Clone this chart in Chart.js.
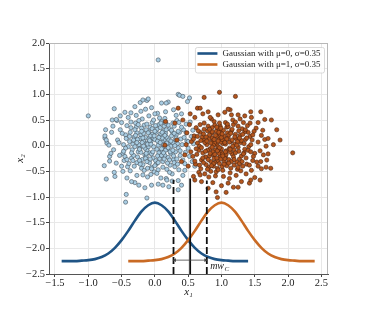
<!DOCTYPE html>
<html><head><meta charset="utf-8">
<script src="https://cdn.jsdelivr.net/npm/chart.js@4/dist/chart.umd.min.js"></script>
<style>html,body{margin:0;padding:0;background:#fff}canvas{display:block}</style>
</head><body><canvas id="c" width="373" height="313"></canvas>
<script>
const xTicks = [-1.5, -1.0, -0.5, 0.0, 0.5, 1.0, 1.5, 2.0, 2.5];
const yTicks = [-2.5, -2.0, -1.5, -1.0, -0.5, 0.0, 0.5, 1.0, 1.5, 2.0];

const class0Points = [
[-0.12,0.05],[0.08,-0.21],[-0.31,0.17],[0.22,0.33],[-0.05,-0.42],[0.41,0.02],[-0.48,-0.15],[0.14,0.11],[-0.19,0.52],[0.03,-0.07],
[-0.27,-0.33],[0.31,-0.12],[-0.09,0.27],[0.18,-0.46],[-0.38,0.08],[0.06,0.41],[-0.15,-0.18],[0.25,0.19],[-0.52,0.31],[-0.02,0.14],
[0.12,-0.31],[-0.23,-0.05],[0.37,0.26],[-0.11,-0.61],[0.04,0.63],[-0.35,-0.24],[0.21,0.02],[-0.07,0.36],[0.28,-0.27],[-0.44,0.21],
[0.09,-0.11],[-0.17,0.09],[0.45,-0.35],[-0.29,0.44],[0.16,0.24],[-0.62,-0.08],[0.01,-0.29],[-0.21,0.21],[0.33,0.49],[-0.08,-0.14],
[0.19,-0.07],[-0.41,-0.41],[0.07,0.18],[-0.14,0.71],[0.26,-0.55],[-0.33,0.03],[0.11,0.07],[-0.01,-0.51],[0.39,0.13],[-0.25,-0.12],
[-0.56,0.11],[0.15,-0.19],[-0.04,0.22],[0.29,0.38],[-0.19,-0.27],[0.05,0.01],[-0.36,0.35],[0.23,-0.38],[-0.10,-0.03],[0.48,0.09],
[-0.28,0.59],[0.13,0.29],[-0.46,-0.29],[-0.06,0.08],[0.20,-0.23],[-0.16,0.40],[0.35,-0.04],[-0.65,0.26],[0.02,-0.36],[-0.22,0.14],
[0.10,0.47],[-0.32,-0.19],[0.27,0.06],[-0.03,-0.24],[-0.13,0.31],[0.17,-0.64],[-0.40,-0.02],[0.08,0.35],[-0.24,0.02],[0.32,0.21],
[-0.50,0.45],[0.00,0.12],[-0.20,-0.44],[0.24,-0.15],[-0.09,0.58],[0.43,0.31],[-0.34,-0.08],[0.12,-0.03],[-0.58,-0.34],[-0.05,-0.16],
[0.18,0.16],[-0.27,0.25],[0.05,-0.47],[-0.12,-0.09],[0.30,-0.41],[-0.43,0.14],[0.15,0.53],[-0.18,-0.37],[0.22,-0.28],[-0.07,0.19],
[-0.72,0.05],[-0.68,-0.21],[-0.75,0.15],[0.52,-0.21],[0.55,0.18],[-0.45,0.65],[-0.30,0.76],[-0.12,0.88],[0.10,0.83],[-0.22,0.84],
[0.28,0.70],[0.40,0.62],[-0.57,0.49],[-0.61,-0.52],[-0.42,-0.63],[-0.30,-0.72],[-0.15,-0.82],[0.05,-0.75],[0.21,-0.80],[0.35,-0.68],
[-0.44,-1.10],[-0.43,-0.95],[-0.12,-1.02],[-0.73,-0.65],[-0.60,-0.60],[0.42,-0.58],[0.47,0.42],[0.50,-0.05],[0.57,0.30],[0.60,-0.40],
[-1.00,0.58],[0.05,1.67],[0.35,1.00],[0.37,0.98],[0.42,0.96],[0.52,0.93],[0.49,0.86],[-0.18,0.89],[-0.10,0.91],[-0.61,0.72],
[0.20,0.85],[0.17,0.83],[-0.64,0.50],[-0.58,0.51],[-0.74,0.31],[-0.75,0.19],[-0.73,0.11],[-0.68,-0.30],[-0.76,-0.39],[-0.35,-0.70],
[-0.24,-0.77],[-0.05,-0.77],[0.12,-0.77],[0.35,-0.86],[0.40,-0.77],[-0.18,-0.57],[0.03,-0.54],[0.18,-0.67],[-0.14,0.16],[0.07,-0.25],
[-0.26,-0.22],[0.34,0.04],[-0.04,0.45],[0.16,-0.09],[-0.37,0.26],[0.26,0.27],[-0.08,-0.33],[0.02,0.26],[-0.30,-0.02],[0.20,0.40],
[-0.13,-0.21],[0.38,-0.19],[-0.47,0.02],[0.11,0.15],[-0.20,0.34],[0.29,-0.33],[-0.02,-0.02],[-0.39,-0.35],[0.14,0.38],[-0.24,0.49],
[0.06,-0.14],[0.44,0.16],[-0.11,0.03],[0.24,-0.01],[-0.32,0.11],[0.00,-0.39],[-0.17,0.24],[0.31,0.12],[-0.53,-0.19],[0.09,0.23],
[-0.06,-0.56],[0.19,-0.34],[-0.28,0.36],[0.36,-0.47],[-0.15,-0.05],[0.13,0.02],[-0.42,0.39],[0.03,0.32],[-0.23,-0.29],[0.27,0.44],
[-0.01,0.19],[0.46,-0.13],[-0.35,-0.14],[0.10,-0.19],[-0.19,0.06],[0.21,0.11],[-0.49,0.24],[-0.07,-0.26],[0.33,-0.26],[-0.12,0.42],
[0.17,0.31],[-0.31,-0.40],[0.04,0.09],[-0.21,-0.13],[0.40,0.36],[-0.44,-0.05],[0.12,-0.42],[-0.09,0.13],[0.23,-0.12],[-0.26,0.12],
[0.07,0.54],[-0.37,-0.49],[0.30,0.00],[-0.03,-0.12],[0.15,0.20],[-0.16,-0.48],[-0.54,0.06],[0.25,0.30],[-0.10,0.25],[0.05,-0.33],
[-0.29,0.20],[0.42,-0.28],[-0.13,-0.15],[0.18,0.05],[-0.40,0.55],[0.01,0.39],[-0.22,-0.36],[0.28,-0.20],[-0.06,0.03],[0.35,0.28],
[-0.33,-0.29],[0.09,0.44],[-0.18,0.15],[0.22,-0.52],[-0.45,-0.21],[-0.04,0.33],[0.14,-0.26],[-0.27,0.06],[0.32,0.15],[-0.11,-0.44],
[0.08,0.06],[-0.38,0.18],[0.20,-0.04],[-0.02,0.50],[-0.50,-0.40],[0.27,-0.09],[-0.14,-0.25],[0.11,0.26],[-0.30,0.31],[0.38,-0.10],
[-0.08,0.10],[0.16,0.44],[-0.23,-0.07],[0.04,-0.20],[-0.36,0.46],[0.29,0.24],[-0.12,-0.31],[0.13,-0.14],[-0.47,-0.11],[0.00,0.28],
[-0.20,0.28],[0.24,0.09],[-0.05,-0.45],[0.34,-0.36],[-0.25,0.41],[0.06,0.16],[-0.17,-0.01],[0.47,0.25],[-0.42,-0.27],[0.10,-0.06],
[-0.52,0.58],[-0.36,0.64],[0.16,0.66],[0.32,0.59],[-0.05,0.74],[0.53,0.46],[0.56,-0.31],[0.45,-0.48],[-0.63,0.38],[-0.66,-0.15],
[-0.27,-0.58],[0.26,-0.69],[0.09,-0.63],[-0.48,-0.50],[0.50,0.08],[-0.69,0.01],[0.00,0.62],[-0.21,0.67],[0.36,0.45],[0.58,0.04]
];

const class1Points = [
[1.02,0.04],[0.88,-0.18],[1.21,0.22],[0.73,0.11],[1.09,-0.35],[0.95,0.31],[1.35,-0.07],[0.81,-0.42],[1.14,0.08],[0.66,-0.09],
[1.27,-0.26],[0.99,-0.12],[0.85,0.24],[1.43,0.18],[0.92,-0.51],[1.18,0.41],[0.59,0.19],[1.06,-0.22],[0.78,0.02],[1.31,0.33],
[0.96,0.13],[1.24,-0.46],[0.70,-0.28],[1.12,-0.05],[0.89,0.47],[1.50,-0.15],[1.04,0.19],[0.62,0.35],[1.38,-0.36],[0.83,-0.06],
[1.16,-0.16],[0.94,-0.30],[1.29,0.06],[0.75,-0.55],[1.08,0.36],[0.87,0.09],[1.45,-0.48],[1.01,-0.41],[0.68,0.26],[1.22,0.14],
[0.91,-0.08],[1.33,0.45],[0.80,0.38],[1.11,-0.27],[0.57,-0.21],[1.26,-0.11],[0.97,0.22],[1.40,0.26],[0.84,-0.31],[1.05,0.10],
[0.72,-0.14],[1.19,-0.38],[0.93,0.02],[1.55,0.07],[1.03,-0.60],[0.64,0.05],[1.30,-0.20],[0.86,0.15],[1.15,0.29],[0.98,-0.21],
[1.36,0.12],[0.77,-0.37],[1.07,-0.10],[0.90,0.40],[1.47,-0.29],[0.69,-0.45],[1.20,0.03],[1.00,0.27],[0.82,-0.20],[1.25,0.38],
[0.61,-0.36],[1.13,-0.53],[0.95,-0.02],[1.41,-0.02],[0.79,0.29],[1.10,0.16],[0.88,-0.40],[1.32,-0.40],[1.04,-0.30],[0.74,0.44],
[1.17,0.50],[0.93,0.18],[1.52,0.34],[0.67,-0.01],[1.23,-0.32],[0.99,0.07],[1.37,-0.55],[0.81,0.13],[1.06,0.45],[0.89,-0.25],
[1.28,0.20],[0.55,0.08],[1.14,-0.44],[0.96,-0.15],[1.44,0.02],[0.76,-0.22],[1.09,0.25],[0.86,0.35],[1.34,-0.14],[1.02,-0.48],
[0.71,0.17],[1.19,-0.08],[0.92,0.28],[1.58,-0.10],[1.01,0.12],[0.63,-0.17],[1.26,0.29],[0.84,-0.50],[1.12,0.07],[0.97,-0.35],
[1.39,0.39],[0.79,-0.09],[1.07,-0.17],[0.90,0.06],[1.48,-0.21],[0.68,0.41],[1.22,-0.58],[1.00,-0.06],[0.82,0.21],[1.30,0.10],
[0.60,-0.30],[1.16,0.32],[0.94,-0.44],[1.35,0.27],[0.75,0.06],[1.05,-0.25],[0.87,-0.12],[1.42,-0.38],[1.11,0.21],[0.65,0.29],
[1.25,-0.03],[0.98,0.38],[0.80,-0.27],[1.18,-0.22],[0.91,-0.59],[1.53,-0.32],[1.03,0.30],[0.73,-0.33],[1.29,-0.49],[0.95,0.09],
[1.13,-0.12],[0.85,0.52],[1.46,0.11],[0.70,-0.04],[1.21,0.46],[1.02,-0.16],[0.88,0.01],[1.37,-0.24],[0.58,0.13],[1.08,-0.39],
[0.93,0.36],[1.32,0.22],[0.77,0.17],[1.15,-0.31],[0.99,-0.26],[1.60,0.20],[0.83,-0.15],[1.24,0.08],[1.06,0.03],[0.66,-0.52],
[1.40,-0.09],[0.90,-0.33],[1.10,0.37],[0.74,0.32],[1.27,-0.35],[0.96,0.26],[1.49,0.28],[0.81,-0.61],[1.17,-0.01],[1.00,0.16],
[0.62,-0.06],[1.33,-0.16],[0.86,0.27],[1.12,-0.64],[0.94,-0.10],[1.43,0.44],[0.72,-0.24],[1.20,0.17],[1.04,-0.36],[0.89,0.12],
[0.50,-0.40],[0.48,0.25],[0.52,0.41],[0.54,-0.12],[0.47,0.02],[0.60,0.55],[0.72,0.62],[0.95,0.60],[1.05,0.65],[1.25,0.60],
[1.35,0.58],[1.55,0.45],[1.62,0.30],[1.68,-0.28],[1.60,-0.45],[1.50,-0.62],[1.30,-0.70],[0.87,-0.72],[1.00,-0.78],[0.70,-0.70],
[1.78,0.02],[1.15,0.60],[0.80,0.66],[1.42,-0.73],[0.58,-0.60],[1.55,-0.40],[1.65,0.12],[0.53,0.62],[0.64,0.73],[1.28,0.52],
[0.97,-0.04],[1.08,0.13],[0.84,0.05],[1.19,-0.27],[0.91,0.20],[1.31,-0.31],[0.76,-0.11],[1.14,0.24],[1.02,-0.20],[0.69,0.10],
[1.23,0.01],[0.88,-0.35],[1.36,0.31],[0.99,0.34],[0.79,-0.46],[1.11,-0.34],[0.93,-0.24],[1.27,0.15],[1.05,0.06],[0.82,0.32],
[1.44,-0.12],[0.67,-0.38],[1.16,0.11],[0.95,-0.47],[1.34,0.04],[0.86,-0.03],[1.09,0.42],[0.73,0.23],[1.21,-0.14],[1.01,0.23],
[0.90,-0.17],[1.38,0.15],[0.64,0.18],[1.13,-0.07],[0.97,0.44],[1.25,-0.42],[0.78,0.09],[1.06,-0.12],[0.85,-0.39],[1.47,0.21],
[0.94,-1.01],[1.07,-0.91],[0.92,-0.90],[0.80,-0.83],[1.18,-0.81],[1.25,-0.81],[1.10,-0.73],[1.44,-0.67],[1.58,-0.67],[0.60,-0.67],
[0.68,-0.57],[1.74,-0.44],[1.67,-0.42],[1.59,-0.31],[2.07,-0.14],[1.75,0.50],[1.65,0.51],[1.59,0.66],[1.44,0.66],[1.45,0.55],
[1.13,0.70],[1.10,0.71],[0.83,0.55],[0.68,0.73],[1.88,0.11],[1.83,0.31],[1.70,0.14],[1.67,-0.01],[1.63,-0.18],[1.70,-0.16],
[0.97,1.04],[0.74,0.94],[1.21,0.96],[0.35,0.73],[0.16,0.47],[0.30,0.44],[0.42,0.50],[0.15,0.01],[0.33,0.11],[0.40,-0.31],[0.45,-0.18]
];

const curve0X = [-1.4,-1.3,-1.2,-1.1,-1.0,-0.9,-0.8,-0.7,-0.6,-0.5,-0.4,-0.3,-0.2,-0.1,0.0,0.1,0.2,0.3,0.4,0.5,0.6,0.7,0.8,0.9,1.0,1.1,1.2,1.3,1.4];
const curve0Y = [-2.25,-2.25,-2.25,-2.24,-2.23,-2.21,-2.17,-2.10,-1.99,-1.84,-1.66,-1.46,-1.28,-1.16,-1.11,-1.16,-1.28,-1.46,-1.66,-1.84,-1.99,-2.10,-2.17,-2.21,-2.23,-2.24,-2.25,-2.25,-2.25];
const curve1X = [-0.4,-0.3,-0.2,-0.1,0.0,0.1,0.2,0.3,0.4,0.5,0.6,0.7,0.8,0.9,1.0,1.1,1.2,1.3,1.4,1.5,1.6,1.7,1.8,1.9,2.0,2.1,2.2,2.3,2.4];
const curve1Y = [-2.25,-2.25,-2.25,-2.24,-2.23,-2.21,-2.17,-2.10,-1.99,-1.84,-1.66,-1.46,-1.28,-1.16,-1.11,-1.16,-1.28,-1.46,-1.66,-1.84,-1.99,-2.10,-2.17,-2.21,-2.23,-2.24,-2.25,-2.25,-2.25];

const seriesLabels = ['Gaussian with \u03bc=0, \u03c3=0.35', 'Gaussian with \u03bc=1, \u03c3=0.35'];
const boundaryX = [0.28, 0.53, 0.78];
const boundaryTop = [-0.67, -0.64, -0.68];
const arrowY = -2.23;
const marginLabel = {x: 0.83, y: -2.36, main: 'mw', sub: 'C'};

const SERIF = '"Liberation Serif", "DejaVu Serif", serif';
const BLUE = '#1f5485';
const ORANGE = '#c96a24';

const toXY = a => a.map(p => ({x: p[0], y: p[1]}));
const zipXY = (xs, ys) => xs.map((x, i) => ({x, y: ys[i]}));
const fmt = v => (Math.abs(v) < 1e-9 ? '0.0' : v.toFixed(1).replace('-', '\u2212'));

const yMin = -2.5;
const datasets = [
  {type:'scatter', data: toXY(class0Points), pointRadius: 2.1, pointBackgroundColor:'#a9cde3', pointBorderColor:'#44525d', pointBorderWidth:0.6, order:6},
  {type:'scatter', data: toXY(class1Points), pointRadius: 2.1, pointBackgroundColor:'#b3561e', pointBorderColor:'#4a2410', pointBorderWidth:0.6, order:5},
  {type:'line', label: seriesLabels[0], legend:true, data: zipXY(curve0X, curve0Y), borderColor: BLUE, borderWidth: 2.6, pointRadius:0, cubicInterpolationMode:'monotone', order:4},
  {type:'line', label: seriesLabels[1], legend:true, data: zipXY(curve1X, curve1Y), borderColor: ORANGE, borderWidth: 2.6, pointRadius:0, cubicInterpolationMode:'monotone', order:3},
  {type:'line', data: [{x:boundaryX[0], y:yMin},{x:boundaryX[0], y:boundaryTop[0]}], borderColor:'#111', borderWidth:1.8, borderDash:[7,3], pointRadius:0, order:2},
  {type:'line', data: [{x:boundaryX[1], y:yMin},{x:boundaryX[1], y:boundaryTop[1]}], borderColor:'#111', borderWidth:1.8, pointRadius:0, order:2},
  {type:'line', data: [{x:boundaryX[2], y:yMin},{x:boundaryX[2], y:boundaryTop[2]}], borderColor:'#111', borderWidth:1.8, borderDash:[7,3], pointRadius:0, order:2},
  {type:'line', data: [{x:boundaryX[0]+0.02, y:arrowY},{x:boundaryX[2]-0.02, y:arrowY}], borderColor:'#444', borderWidth:0.8,
   pointStyle:'triangle', pointRadius:2.2, pointRotation:[270, 90], pointBackgroundColor:'#444', pointBorderColor:'#444', pointBorderWidth:0, order:1}
];

const framePlugin = {
  id:'frame',
  afterDatasetsDraw(chart) {
    const {ctx, chartArea:a, scales} = chart;
    ctx.save();
    ctx.strokeStyle = '#b8b8b8'; ctx.lineWidth = 1;
    ctx.beginPath();
    ctx.moveTo(a.left, a.top + 0.5); ctx.lineTo(a.right, a.top + 0.5);
    ctx.moveTo(a.right - 0.5, a.top); ctx.lineTo(a.right - 0.5, a.bottom);
    ctx.stroke();
    const px = scales.x.getPixelForValue(marginLabel.x), py = scales.y.getPixelForValue(marginLabel.y);
    ctx.fillStyle = '#222'; ctx.textBaseline = 'middle'; ctx.textAlign = 'left';
    ctx.font = 'italic 10px ' + SERIF;
    ctx.fillText(marginLabel.main, px, py);
    const w = ctx.measureText(marginLabel.main).width;
    ctx.font = 'italic 7px ' + SERIF;
    ctx.fillText(marginLabel.sub, px + w + 0.5, py + 2.5);
    const items = chart.data.datasets.filter(d => d.legend);
    ctx.font = '9px ' + SERIF;
    let tw = 0; items.forEach(d => tw = Math.max(tw, ctx.measureText(d.label).width));
    const bw = 2 + 20 + 5 + tw + 4, bh = 25.5;
    const bx = a.right - 3.5 - bw, by = a.top + 4.5;
    ctx.fillStyle = 'rgba(255,255,255,0.85)'; ctx.strokeStyle = '#d0d0d0'; ctx.lineWidth = 0.8;
    ctx.beginPath(); ctx.roundRect(bx, by, bw, bh, 2); ctx.fill(); ctx.stroke();
    items.forEach((d, i) => {
      const ly = by + 6 + i * 11;
      ctx.strokeStyle = d.borderColor; ctx.lineWidth = 2.6;
      ctx.beginPath(); ctx.moveTo(bx + 2, ly); ctx.lineTo(bx + 22, ly); ctx.stroke();
      ctx.fillStyle = '#222'; ctx.textBaseline = 'middle';
      ctx.fillText(d.label, bx + 27, ly + 0.5);
    });
    ctx.restore();
  }
};

new Chart(document.getElementById('c'), {
  data: {datasets},
  options: {
    responsive:false, animation:false, devicePixelRatio:1,
    layout:{padding:{left:0, right:45, top:43, bottom:0}},
    plugins:{legend:{display:false}, tooltip:{enabled:false}},
    scales:{
      x:{type:'linear', min:-1.59, max:2.6,
        afterBuildTicks: s => { s.ticks = xTicks.map(v => ({value:v})); },
        afterFit: s => { s.height = 39; },
        ticks:{callback: fmt, font:{family:SERIF, size:10.5}, color:'#222', padding:0, maxRotation:0, autoSkip:false},
        grid:{color:'#e8e8e8', lineWidth:1, tickColor:'#444', tickLength:3},
        border:{color:'#555', width:1},
        title:{display:true, text:'x\u2081', font:{family:SERIF, size:11, style:'italic'}, color:'#222', padding:{top:0, bottom:14}}
      },
      y:{type:'linear', min:-2.5, max:2.0,
        afterBuildTicks: s => { s.ticks = yTicks.map(v => ({value:v})); },
        afterFit: s => { s.width = 49; },
        ticks:{callback: fmt, font:{family:SERIF, size:10.5}, color:'#222', padding:1, autoSkip:false},
        grid:{color:'#e8e8e8', lineWidth:1, tickColor:'#444', tickLength:3},
        border:{color:'#555', width:1},
        title:{display:true, text:'x\u2082', font:{family:SERIF, size:11, style:'italic'}, color:'#222', padding:{top:14, bottom:0}}
      }
    }
  },
  plugins:[framePlugin]
});
</script></body></html>
